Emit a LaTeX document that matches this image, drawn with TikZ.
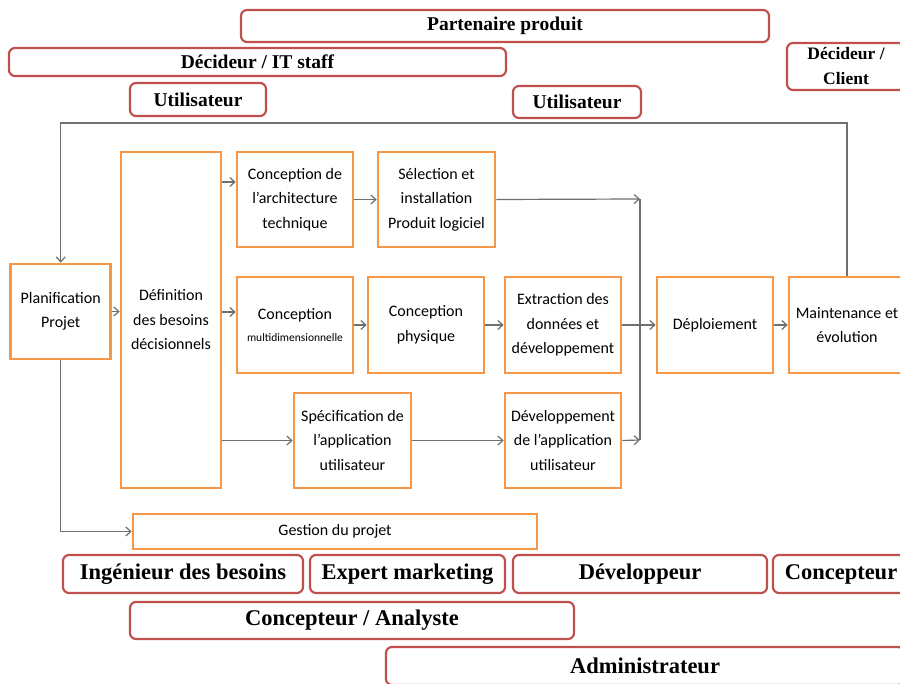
\documentclass[tikz,border=0pt]{standalone}
\usepackage{fontspec}
\setmainfont{Liberation Serif}
\newfontfamily\calib{Carlito}
\usetikzlibrary{arrows.meta}
\definecolor{rolered}{HTML}{C0504D}
\definecolor{steporange}{HTML}{F79646}
\definecolor{linkgray}{HTML}{6F6F6F}
\tikzset{
  role/.style={draw=rolered, line width=2.2pt, rounded corners=6pt, inner sep=0pt,
    align=center, font=\bfseries\fontsize{19.5}{23}\selectfont},
  rolebig/.style={role, font=\bfseries\fontsize{22.5}{26}\selectfont},
  stepbox/.style={draw=steporange, line width=2.6pt, inner sep=0pt, align=center,
    font=\calib\fontsize{16}{24.5}\selectfont},
  link/.style={draw=linkgray, line width=1.2pt},
  linkarrow/.style={link, -{Straight Barb[length=5pt,width=9pt]}}
}
\begin{document}
\begin{tikzpicture}[x=1pt, y=-1pt]
\clip (0,0) rectangle (900,684);
\fill[white] (0,0) rectangle (900,684);

% roles above the process
\node[role, minimum width=528pt, minimum height=32pt] (partner) at (505,26) {Partenaire produit};
\node[role, minimum width=497pt, minimum height=28pt] (itstaff) at (257.5,62) {Décideur / IT staff};
\node[role, minimum width=136pt, minimum height=33pt] (userA) at (198,99.5) {Utilisateur};
\node[role, minimum width=128pt, minimum height=32pt] (userB) at (577,102) {Utilisateur};
\node[role, minimum width=118pt, minimum height=47pt,
      font=\bfseries\fontsize{17.5}{25}\selectfont] (client) at (846,66.5) {Décideur /\\Client};

% process steps
\node[stepbox, minimum width=100pt, minimum height=95pt] (plan) at (60.7,311.5) {Planification\\Projet};
\node[stepbox, minimum width=100pt, minimum height=336pt] (def) at (171,320) {Définition\\des besoins\\décisionnels};
\node[stepbox, minimum width=116pt, minimum height=95pt] (archi) at (295,199.5) {Conception de\\l’architecture\\technique};
\node[stepbox, minimum width=117pt, minimum height=95pt] (select) at (436.5,199.5) {Sélection et\\installation\\Produit logiciel};
\node[stepbox, minimum width=116pt, minimum height=96pt] (multi) at (295,325) {Conception\\[-3pt]{\fontsize{11.5}{14}\selectfont multidimensionnelle}};
\node[stepbox, minimum width=116pt, minimum height=96pt] (phys) at (426,325) {Conception\\physique};
\node[stepbox, minimum width=116pt, minimum height=96pt] (extract) at (563,325) {Extraction des\\données et\\développement};
\node[stepbox, minimum width=116pt, minimum height=96pt] (deploy) at (715,325) {Déploiement};
\node[stepbox, minimum width=116pt, minimum height=96pt] (maint) at (847,325) {Maintenance et\\évolution};
\node[stepbox, minimum width=117pt, minimum height=95pt] (spec) at (352.5,440.5) {Spécification de\\l’application\\utilisateur};
\node[stepbox, minimum width=116pt, minimum height=95pt] (devapp) at (563,440.5) {Développement\\de l’application\\utilisateur};
\node[stepbox, minimum width=404pt, minimum height=35pt] (gestion) at (335,531.5) {Gestion du projet};

% roles below the process
\node[rolebig, minimum width=240pt, minimum height=38pt] (ingenieur) at (183,574) {Ingénieur des besoins};
\node[rolebig, minimum width=195pt, minimum height=38pt] (marketing) at (407.5,574) {Expert marketing};
\node[rolebig, minimum width=254pt, minimum height=38pt] (devel) at (640,574) {Développeur};
\node[rolebig, minimum width=136pt, minimum height=38pt] (concepteur) at (841,574) {Concepteur};
\node[rolebig, minimum width=444pt, minimum height=37pt] (analyste) at (352,620.5) {Concepteur / Analyste};
\node[rolebig, minimum width=518pt, minimum height=38pt] (admin) at (645,666) {Administrateur};

% connectors
\coordinate (join) at (640,199);
\coordinate (joinb) at (640,440);

\draw[linkarrow] (maint.north) -- (maint.north |- 0,123) -- (plan.north |- 0,123) -- (plan.north);
\draw[linkarrow] (plan.south) |- (gestion.west);
\draw[linkarrow] (plan.east) -- (def.west |- plan.east);
\draw[linkarrow] (def.east |- 0,182) -- (archi.west |- 0,182);
\draw[linkarrow] (def.east |- 0,312) -- (multi.west |- 0,312);
\draw[linkarrow] (def.east |- spec.west) -- (spec.west);
\draw[linkarrow] (archi.east) -- (select.west);
\draw[linkarrow] (select.east) -- (join);
\draw[link] (join) -- (joinb);
\draw[linkarrow] (multi.east) -- (phys.west);
\draw[linkarrow] (phys.east) -- (extract.west);
\draw[linkarrow] (extract.east) -- (deploy.west);
\draw[linkarrow] (deploy.east) -- (maint.west);
\draw[linkarrow] (spec.east) -- (devapp.west);
\draw[linkarrow] (devapp.east) -- (joinb);
\end{tikzpicture}
\end{document}
